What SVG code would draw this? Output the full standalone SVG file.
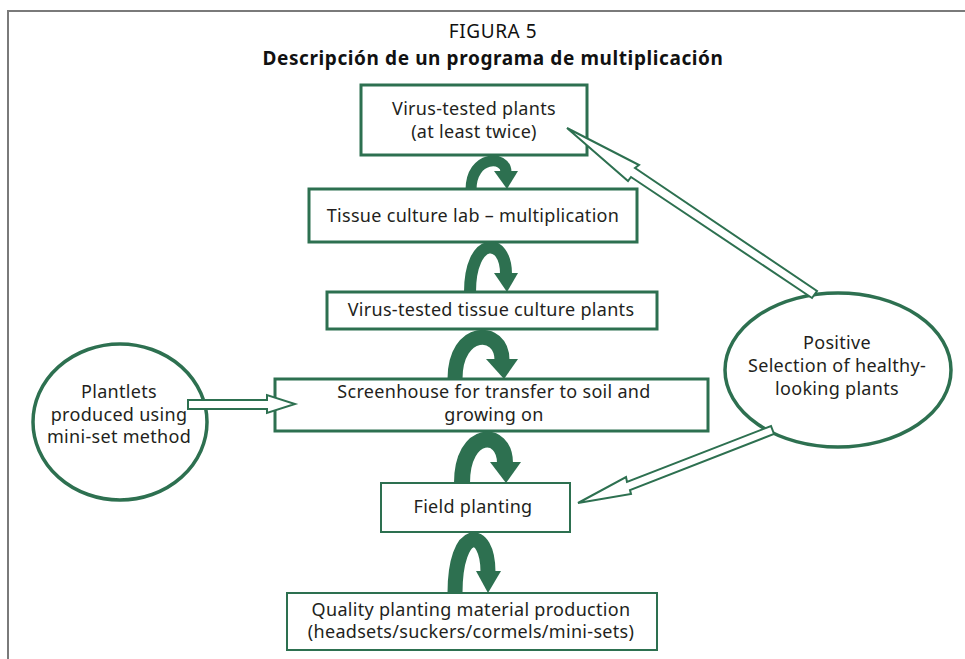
<svg xmlns="http://www.w3.org/2000/svg" width="965" height="659" viewBox="0 0 965 659">
  <style>
    .frame { fill: none; stroke: #7a7a7a; stroke-width: 2; }
    .box { fill: #ffffff; stroke: #2d7050; stroke-width: 3; }
    .box.thin { stroke-width: 2; }
    .oval { fill: #ffffff; stroke: #2d7050; stroke-width: 3.5; }
    .label { font-family: "Noto Sans", "Open Sans", "Liberation Sans", sans-serif; font-size: 18px; letter-spacing: 0.3px; fill: #231f20; text-anchor: middle; }
    .fig { font-family: "Noto Sans", "Open Sans", "Liberation Sans", sans-serif; font-size: 19px; letter-spacing: 0.6px; fill: #111111; text-anchor: middle; }
    .title { font-family: "Noto Sans", "Open Sans", "Liberation Sans", sans-serif; font-size: 19px; letter-spacing: 0.6px; font-weight: bold; fill: #111111; text-anchor: middle; }
    .arc { fill: none; stroke: #2d7050; }
    .head { fill: #2d7050; }
    .hollow { fill: #ffffff; stroke: #2d7050; stroke-width: 2; stroke-linejoin: miter; }
  </style>

  <!-- figure frame -->
  <path class="frame" d="M8,659 V11 H965"/>

  <!-- caption -->
  <text class="fig" x="493" y="38">FIGURA 5</text>
  <text class="title" x="493" y="65">Descripción de un programa de multiplicación</text>

  <!-- stages -->
  <g id="virus-tested-plants">
    <rect class="box" x="361" y="85" width="226" height="70"/>
    <text class="label" x="474" y="115">Virus-tested plants</text>
    <text class="label" x="474" y="138">(at least twice)</text>
  </g>

  <g id="tissue-culture-lab">
    <rect class="box" x="309" y="189" width="328" height="53"/>
    <text class="label" x="473" y="222">Tissue culture lab – multiplication</text>
  </g>

  <g id="tissue-culture-plants">
    <rect class="box" x="327" y="292" width="330" height="37"/>
    <text class="label" x="491" y="316">Virus-tested tissue culture plants</text>
  </g>

  <g id="screenhouse">
    <rect class="box" x="275" y="379" width="433" height="52"/>
    <text class="label" x="494" y="398">Screenhouse for transfer to soil and</text>
    <text class="label" x="494" y="421">growing on</text>
  </g>

  <g id="field-planting">
    <rect class="box thin" x="381" y="483" width="189" height="49"/>
    <text class="label" x="473" y="513">Field planting</text>
  </g>

  <g id="quality-material">
    <rect class="box thin" x="287" y="593" width="370" height="57"/>
    <text class="label" x="471" y="616">Quality planting material production</text>
    <text class="label" x="471" y="638">(headsets/suckers/cormels/mini-sets)</text>
  </g>

  <g id="plantlets-mini-set">
    <ellipse class="oval" cx="120" cy="422" rx="87" ry="78"/>
    <text class="label" x="119" y="398">Plantlets</text>
    <text class="label" x="119" y="421">produced using</text>
    <text class="label" x="119" y="443">mini-set method</text>
  </g>

  <g id="positive-selection">
    <ellipse class="oval" cx="838" cy="370" rx="113" ry="77"/>
    <text class="label" x="837" y="349">Positive</text>
    <text class="label" x="837" y="372">Selection of healthy-</text>
    <text class="label" x="837" y="395">looking plants</text>
  </g>

  <!-- connectors, drawn over the stage borders -->
  <g id="connectors">
    <!-- curved step arrows between stages -->
    <path class="arc" stroke-width="11" d="M471,190 C471,155 506,155 506,172"/>
    <polygon class="head" points="494,171 518,171 507,189"/>

    <path class="arc" stroke-width="12" d="M470,292 C470,236 506,236 506,274"/>
    <polygon class="head" points="494,273 518,273 507,292"/>

    <path class="arc" stroke-width="15" d="M455,379 C455,327 502,327 502,360"/>
    <polygon class="head" points="486,359 518,359 504,379"/>

    <path class="arc" stroke-width="16" d="M462,483 C462,429 505,429 505,463"/>
    <polygon class="head" points="490,462 521,462 506,483"/>

    <path class="arc" stroke-width="15" d="M455,593 C455,526 488,526 488,572"/>
    <polygon class="head" points="476,571 501,571 488,593"/>

    <!-- hollow block arrows -->
    <polygon class="hollow" points="188,400 267,400 267,395 295,404 267,413 267,409 188,409"/>
    <polygon class="hollow" points="567,128 639,165 635,168 817,291 812,298 631,177 628,181"/>
    <polygon class="hollow" points="578,503 626,477 627,482 771,426 774,434 630,490 631,494"/>
  </g>
</svg>
